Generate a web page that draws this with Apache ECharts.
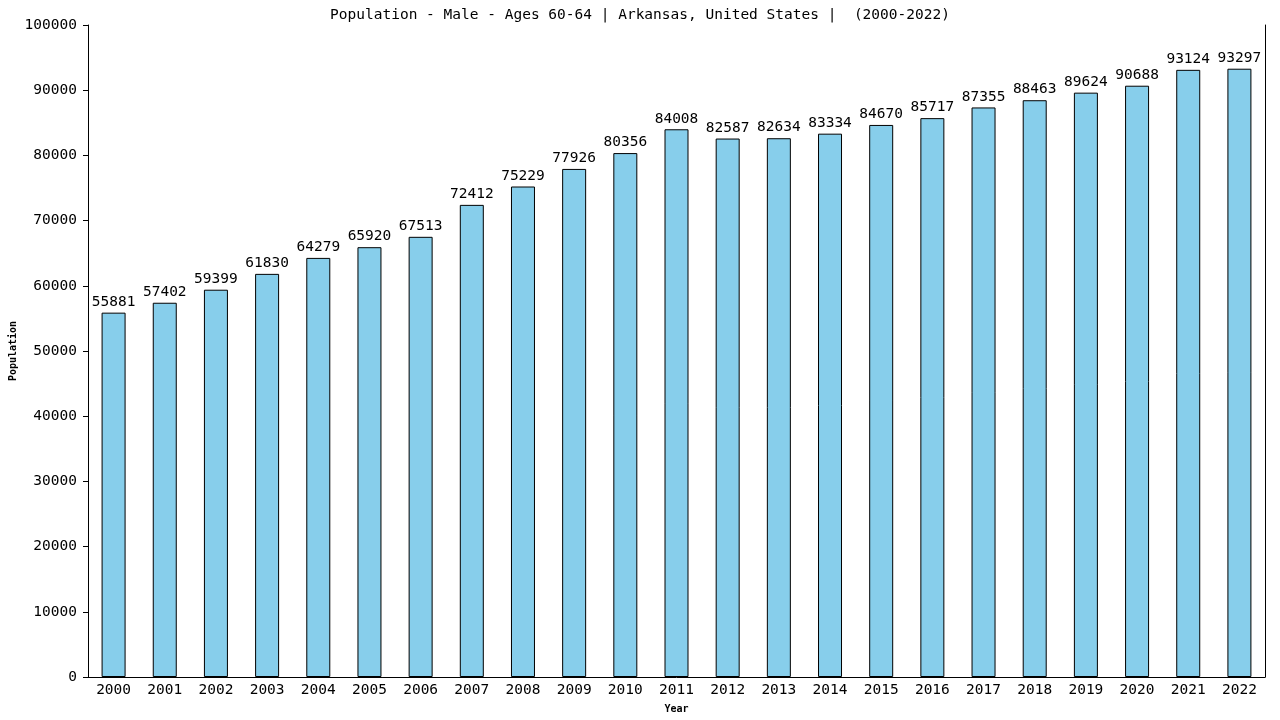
<!DOCTYPE html>
<html><head><meta charset="utf-8">
<script src="https://cdn.jsdelivr.net/npm/echarts@6/dist/echarts.min.js"></script>
<style>html,body{margin:0;padding:0;background:#fff}#c{width:1280px;height:720px}</style>
</head><body><div id="c"></div>
<script>
const years = ["2000","2001","2002","2003","2004","2005","2006","2007","2008","2009","2010","2011","2012","2013","2014","2015","2016","2017","2018","2019","2020","2021","2022"];
const population = [55881,57402,59399,61830,64279,65920,67513,72412,75229,77926,80356,84008,82587,82634,83334,84670,85717,87355,88463,89624,90688,93124,93297];
const titleText = "Population - Male - Ages 60-64 | Arkansas, United States |  (2000-2022)";
const font = "DejaVu Sans Mono";
const chart = echarts.init(document.getElementById('c'));
chart.setOption({
  animation:false,
  backgroundColor:'#fff',
  title:{text:titleText,left:'center',top:3,textStyle:{fontFamily:font,fontSize:14.5,fontWeight:'normal',color:'#000'}},
  grid:{left:88,right:15,top:25,bottom:43,outerBoundsMode:'none',containLabel:false},
  xAxis:{type:'category',data:years,name:'Year',nameLocation:'middle',nameGap:27,nameMoveOverlap:false,
    nameTextStyle:{fontFamily:font,fontSize:10,fontWeight:'bold',color:'#000'},
    axisLine:{lineStyle:{color:'#000'}},axisTick:{show:false},
    axisLabel:{fontFamily:font,fontSize:14.5,color:'#000',margin:6}},
  yAxis:[{type:'value',min:0,max:100000,interval:10000,name:'Population',nameLocation:'middle',nameGap:70,nameMoveOverlap:false,
    nameTextStyle:{fontFamily:font,fontSize:10,fontWeight:'bold',color:'#000'},
    axisLine:{show:true,lineStyle:{color:'#000'}},axisTick:{show:true,length:5,lineStyle:{color:'#000'}},
    splitLine:{show:false},
    axisLabel:{fontFamily:font,fontSize:14.5,color:'#000',margin:11,formatter:function(v){return String(v);}}},
    {type:'value',min:0,max:100000,position:'right',axisLine:{show:true,lineStyle:{color:'#000'}},axisTick:{show:false},axisLabel:{show:false},splitLine:{show:false}}],
  series:[{type:'bar',data:population,barWidth:24,
    itemStyle:{color:'#87CEEB',borderColor:'#000',borderWidth:1},
    label:{show:true,position:'top',distance:3,fontFamily:font,fontSize:14.5,color:'#000'}}]
});
</script></body></html>
